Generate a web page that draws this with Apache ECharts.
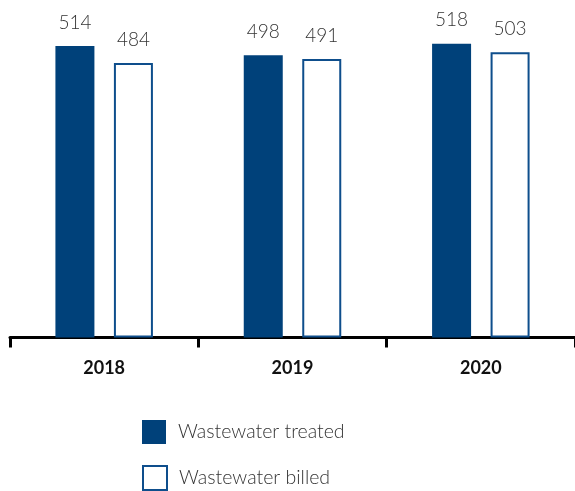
<!DOCTYPE html>
<html>
<head>
<meta charset="utf-8">
<style>
  html, body { margin: 0; padding: 0; background: #fff; }
  #chart { width: 575px; height: 491px; }
</style>
<script src="https://cdn.jsdelivr.net/npm/echarts@6/dist/echarts.min.js"></script>
</head>
<body>
<div id="chart"></div>
<script>
// Yearly wastewater volumes
const years = ['2018', '2019', '2020'];
const treated = [514, 498, 518];
const billed = [484, 491, 503];
const seriesNames = ['Wastewater treated', 'Wastewater billed'];

const navy = '#00417A';
const outline = '#0E4E8C';
const labelFont = { color: '#333', fontFamily: 'Lato', fontWeight: 300, fontSize: 19 };

// one legend block per series, stacked vertically
function legendFor(name, top) {
  return {
    left: 142,
    top: top,
    padding: 0,
    itemWidth: 24,
    itemHeight: 24,
    icon: 'rect',
    textStyle: { color: '#333', fontFamily: 'Lato', fontWeight: 300, fontSize: 19.5, padding: [0, 0, 0, 7] },
    data: [name]
  };
}

const chart = echarts.init(document.getElementById('chart'), null, { renderer: 'canvas' });

chart.setOption({
  animation: false,
  backgroundColor: '#fff',
  grid: { left: 10, right: 0, top: 20, bottom: 153.5, containLabel: false },
  legend: [legendFor(seriesNames[0], 420), legendFor(seriesNames[1], 465)],
  xAxis: {
    type: 'category',
    data: years,
    boundaryGap: true,
    axisLine: { show: true, lineStyle: { color: '#000', width: 3 } },
    axisTick: { show: true, length: 10, lineStyle: { color: '#000', width: 3 } },
    axisLabel: { color: '#111', fontFamily: 'Lato', fontWeight: 'bold', fontSize: 18, margin: 22 }
  },
  yAxis: {
    type: 'value',
    min: 0,
    max: 560,
    show: false,
    splitLine: { show: false }
  },
  series: [
    {
      name: seriesNames[0],
      type: 'bar',
      data: treated,
      barWidth: 39,
      barGap: '50%',
      itemStyle: { color: navy },
      label: { show: true, position: 'top', distance: 14, ...labelFont }
    },
    {
      name: seriesNames[1],
      type: 'bar',
      data: billed,
      barWidth: 39,
      itemStyle: { color: '#fff', borderColor: outline, borderWidth: 2 },
      label: { show: true, position: 'top', distance: 14, ...labelFont }
    }
  ]
});
</script>
</body>
</html>
